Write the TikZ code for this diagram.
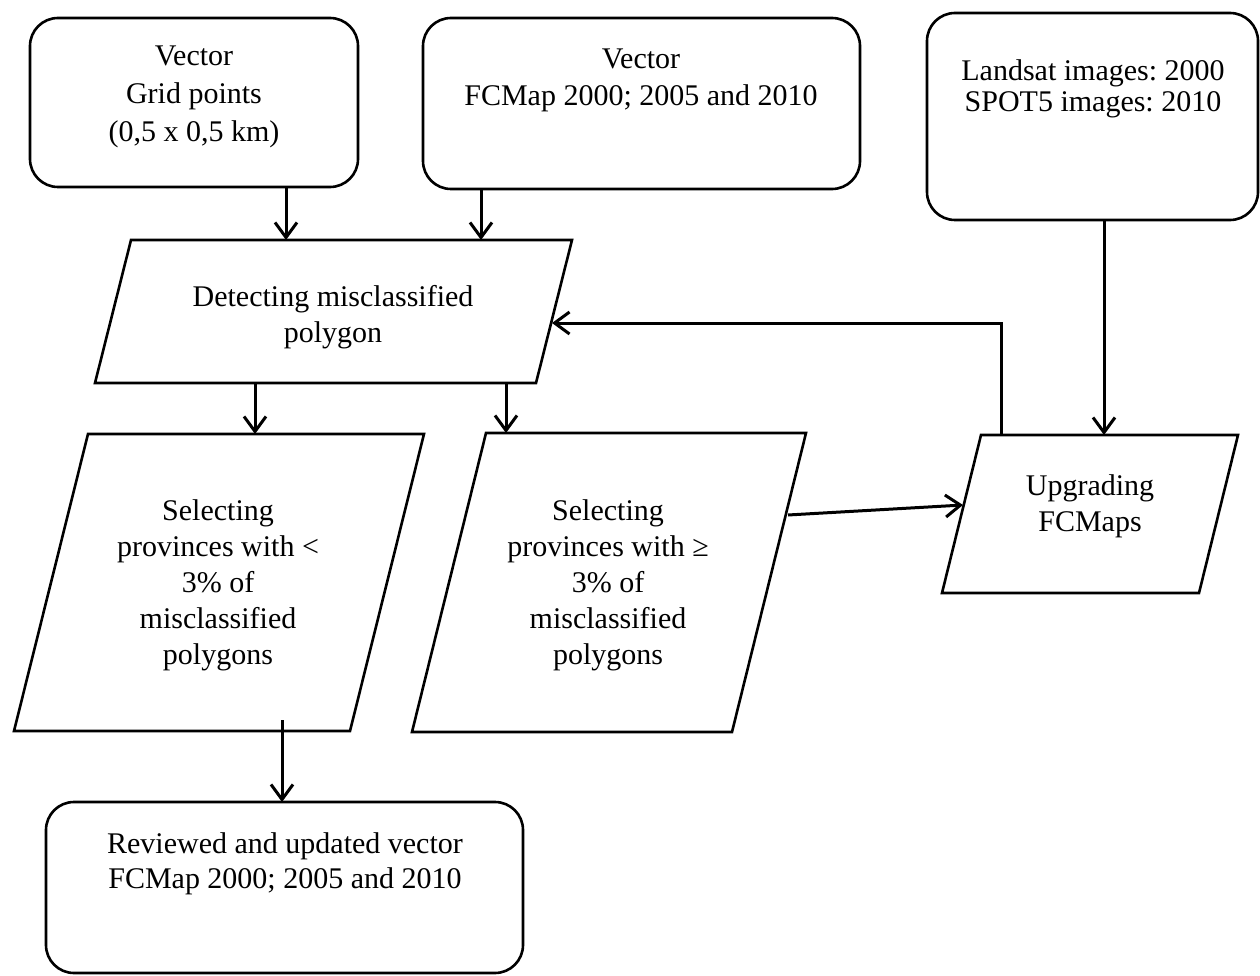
\documentclass[tikz,border=0pt]{standalone}
\usepackage{fontspec}
\setmainfont{Liberation Serif}
\usetikzlibrary{arrows.meta}
\frenchspacing
\begin{document}
\begin{tikzpicture}[x=1pt,y=-1pt,
  rbox/.style={draw, rectangle, rounded corners=28pt, line width=2.6pt, inner sep=0pt, outer sep=0pt},
  frame/.style={rectangle, inner sep=0pt, outer sep=0pt},
  para/.style={draw, line width=2.6pt, line join=miter},
  txt/.style={align=center, inner sep=0pt, font=\fontsize{30}{37}\selectfont},
  arr/.style={line width=3pt, -{Straight Barb[length=15pt,width=22pt]}}]
\useasboundingbox (0,0) rectangle (1260,976);

% rounded boxes
\node[rbox, minimum width=328pt, minimum height=169pt] (A) at (194,102.5) {};
\node[rbox, minimum width=437pt, minimum height=171pt] (B) at (641.5,103.5) {};
\node[rbox, minimum width=331pt, minimum height=207pt] (C) at (1092.5,116.5) {};
\node[rbox, minimum width=477pt, minimum height=171pt] (D) at (284.5,887.5) {};

% parallelogram frames
\node[frame, minimum width=477pt, minimum height=143pt] (P1) at (333.5,311.5) {};
\node[frame, minimum width=410pt, minimum height=297pt] (P2) at (219,582.5) {};
\node[frame, minimum width=394pt, minimum height=299pt] (P3) at (609,582.5) {};
\node[frame, minimum width=296pt, minimum height=158pt] (P4) at (1090,514) {};

\draw[para] ([xshift=36pt]P1.north west) -- (P1.north east) -- ([xshift=-36pt]P1.south east) -- (P1.south west) -- cycle;
\draw[para] ([xshift=74pt]P2.north west) -- (P2.north east) -- ([xshift=-74pt]P2.south east) -- (P2.south west) -- cycle;
\draw[para] ([xshift=74pt]P3.north west) -- (P3.north east) -- ([xshift=-74pt]P3.south east) -- (P3.south west) -- cycle;
\draw[para] ([xshift=39pt]P4.north west) -- (P4.north east) -- ([xshift=-39pt]P4.south east) -- (P4.south west) -- cycle;

% texts
\node[txt, font=\fontsize{30}{38}\selectfont] (At) at (194,97) {Vector\\Grid points\\(0,5 x 0,5 km)};
\node[txt] (Bt) at (641,80) {Vector\\FCMap 2000; 2005 and 2010};
\node[txt, font=\fontsize{30}{31}\selectfont] (Ct) at (1093,89) {Landsat images: 2000\\SPOT5 images: 2010};
\node[txt, font=\fontsize{30}{35}\selectfont] (Dt) at (285,864) {Reviewed and updated vector\\FCMap 2000; 2005 and 2010};
\node[txt, font=\fontsize{30}{36}\selectfont] (P1t) at (333,317) {Detecting misclassified\\polygon};
\node[txt, font=\fontsize{30}{36}\selectfont] (P2t) at (218,585.5) {Selecting\\provinces with <\\3\% of\\misclassified\\polygons};
\node[txt, font=\fontsize{30}{36}\selectfont] (P3t) at (608,585.5) {Selecting\\provinces with ≥\\3\% of\\misclassified\\polygons};
\node[txt, font=\fontsize{30}{36}\selectfont] (P4t) at (1090,506.5) {Upgrading\\FCMaps};

% connector helpers
\coordinate (xA) at (286,0);
\coordinate (xB) at (481,0);
\coordinate (xL) at (255,0);
\coordinate (xR) at (506,0);
\coordinate (xC) at (1104,0);
\coordinate (xF) at (1001,0);
\coordinate (xD) at (282,0);
\coordinate (yF) at (0,323);
\coordinate (P1in) at (552,323);
\coordinate (P3out) at (788,515);
\coordinate (P4in) at (963,505);
\coordinate (P2tail) at (282,720);

% connectors
\draw[arr] (xA |- A.south) -- (xA |- P1.north);
\draw[arr] (xB |- B.south) -- (xB |- P1.north);
\draw[arr] (xL |- P1.south) -- (xL |- P2.north);
\draw[arr] (xR |- P1.south) -- (xR |- P3.north);
\draw[arr] (xC |- C.south) -- (xC |- P4.north);
\draw[arr] (xF |- P4.north) -- (xF |- yF) -- (P1in);
\draw[arr] (P3out) -- (P4in);
\draw[arr] (P2tail) -- (xD |- D.north);
\end{tikzpicture}
\end{document}
